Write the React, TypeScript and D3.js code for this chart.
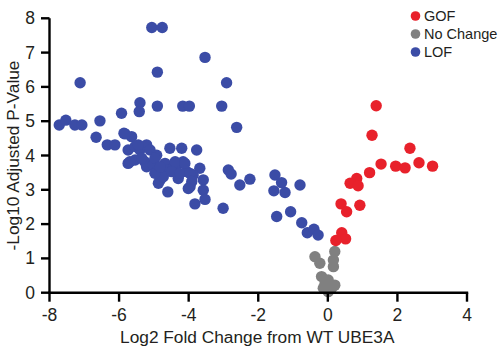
import React from "react";
import * as d3 from "d3";

const W = 499;
const H = 356;

const xTicks = [-8, -6, -4, -2, 0, 2, 4];
const yTicks = [0, 1, 2, 3, 4, 5, 6, 7, 8];

const lofX = [-5.06, -4.76, -3.53, -4.9, -7.12, -2.91, -5.4, -5.42, -5.93, -4.9, -4.17, -3.98, -3.05, -2.62, -7.72, -7.53, -7.27, -7.07, -6.55, -6.66, -6.34, -6.12, -5.86, -5.64, -3.77, -4.54, -4.2, -2.86, -2.78, -2.24, -2.53, -3.01, -5.74, -5.54, -5.4, -5.21, -5.11, -4.92, -5.74, -5.54, -5.26, -5.21, -5.02, -4.92, -4.82, -4.68, -4.59, -4.87, -4.6, -4.44, -4.3, -4.16, -4.06, -3.68, -3.87, -3.58, -4.73, -4.3, -3.96, -3.58, -3.53, -3.82, -1.52, -1.33, -1.55, -1.23, -0.8, -1.47, -1.07, -0.75, -0.59, -0.4, -0.28, -5.69, -5.35, -4.97, -4.97, -4.39, -4.11, -4.49, -4.25, -3.96, -3.91, -4.01, -4.82, -5.45, -5.83];
const lofY = [7.73, 7.73, 6.86, 6.43, 6.12, 6.12, 5.54, 5.28, 5.23, 5.44, 5.44, 5.44, 5.44, 4.82, 4.89, 5.03, 4.89, 4.89, 5.01, 4.53, 4.31, 4.31, 4.65, 4.55, 4.16, 4.21, 4.21, 3.58, 3.46, 3.31, 3.14, 2.46, 4.16, 4.26, 4.16, 4.31, 4.16, 4.01, 3.77, 3.87, 3.82, 3.67, 3.72, 3.53, 3.29, 3.77, 3.58, 3.19, 2.94, 3.63, 3.77, 3.82, 3.53, 3.63, 3.43, 3.29, 3.38, 3.33, 3.09, 2.99, 2.72, 2.59, 3.43, 3.21, 2.97, 2.92, 3.14, 2.22, 2.36, 2.04, 1.75, 1.85, 1.68, 3.82, 3.92, 3.92, 3.48, 3.82, 3.77, 3.53, 3.48, 3.48, 3.24, 3.04, 3.67, 4.31, 4.63];

const gofX = [1.39, 1.27, 2.36, 1.53, 1.95, 2.22, 2.62, 3.01, 1.2, 0.83, 0.64, 0.87, 0.38, 0.54, 0.92, 0.4, 0.51, 0.23];
const gofY = [5.45, 4.59, 4.21, 3.75, 3.69, 3.64, 3.79, 3.69, 3.5, 3.33, 3.19, 3.12, 2.59, 2.36, 2.55, 1.75, 1.57, 1.52];

const ncX = [-0.37, -0.23, 0.2, 0.16, 0.16, -0.18, 0.01, 0.2, -0.13, 0.01, -0.08, 0.11];
const ncY = [1.05, 0.86, 1.2, 0.95, 0.76, 0.47, 0.37, 0.22, 0.13, 0.03, 0.27, 0.13];

const legendLabels = ["GOF", "No Change", "LOF"];
const colors = ["#e8212b", "#808080", "#3b4ca6"];

const FONT = "Liberation Sans, Arial, sans-serif";

export default function App() {
  const left = 49.5, right = 467, top = 18.3, bottom = 292.7;
  const x = d3.scaleLinear().domain([-8, 4]).range([left, right]);
  const y = d3.scaleLinear().domain([0, 8]).range([bottom, top]);
  const r = 5.7;

  const groups = [
    { xs: lofX, ys: lofY, c: colors[2] },
    { xs: ncX, ys: ncY, c: colors[1] },
    { xs: gofX, ys: gofY, c: colors[0] },
  ];

  return (
    <svg width={W} height={H} style={{ position: "absolute", left: 0, top: 0, background: "#fff" }}>
      <rect x={0} y={0} width={W} height={H} fill="#fff" />
      {groups.map((g, gi) =>
        g.xs.map((v, i) => (
          <circle key={gi + "-" + i} cx={x(v)} cy={y(g.ys[i])} r={r} fill={g.c} />
        ))
      )}
      <g stroke="#000" strokeWidth={2.4} fill="none">
        <line x1={left} x2={left} y1={top} y2={bottom + 1.2} />
        <line x1={left - 1.2} x2={right + 1.2} y1={bottom} y2={bottom} />
        {yTicks.map((t) => (
          <line key={"yt" + t} x1={left - 8.5} x2={left} y1={y(t)} y2={y(t)} />
        ))}
        {xTicks.map((t) => (
          <line key={"xt" + t} x1={x(t)} x2={x(t)} y1={bottom} y2={bottom + 9} />
        ))}
      </g>
      <g fontFamily={FONT} fontSize={17.5} fill="#231f20">
        {yTicks.map((t) => (
          <text key={"yl" + t} x={35} y={y(t) + 6} textAnchor="end">{t}</text>
        ))}
        {xTicks.map((t) => (
          <text key={"xl" + t} x={x(t)} y={321} textAnchor="middle">{t}</text>
        ))}
      </g>
      <text x={(left + right) / 2 - 1} y={343} textAnchor="middle" fontFamily={FONT} fontSize={17.3} fill="#231f20">
        Log2 Fold Change from WT UBE3A
      </text>
      <text transform={`translate(19,${(top + bottom) / 2}) rotate(-90)`} textAnchor="middle" fontFamily={FONT} fontSize={17.3} fill="#231f20">
        -Log10 Adjusted P-Value
      </text>
      {legendLabels.map((l, i) => (
        <g key={l}>
          <circle cx={415.5} cy={16 + i * 18} r={4.8} fill={colors[i]} />
          <text x={424} y={21 + i * 18} fontFamily={FONT} fontSize={14.5} fill="#231f20">{l}</text>
        </g>
      ))}
    </svg>
  );
}
